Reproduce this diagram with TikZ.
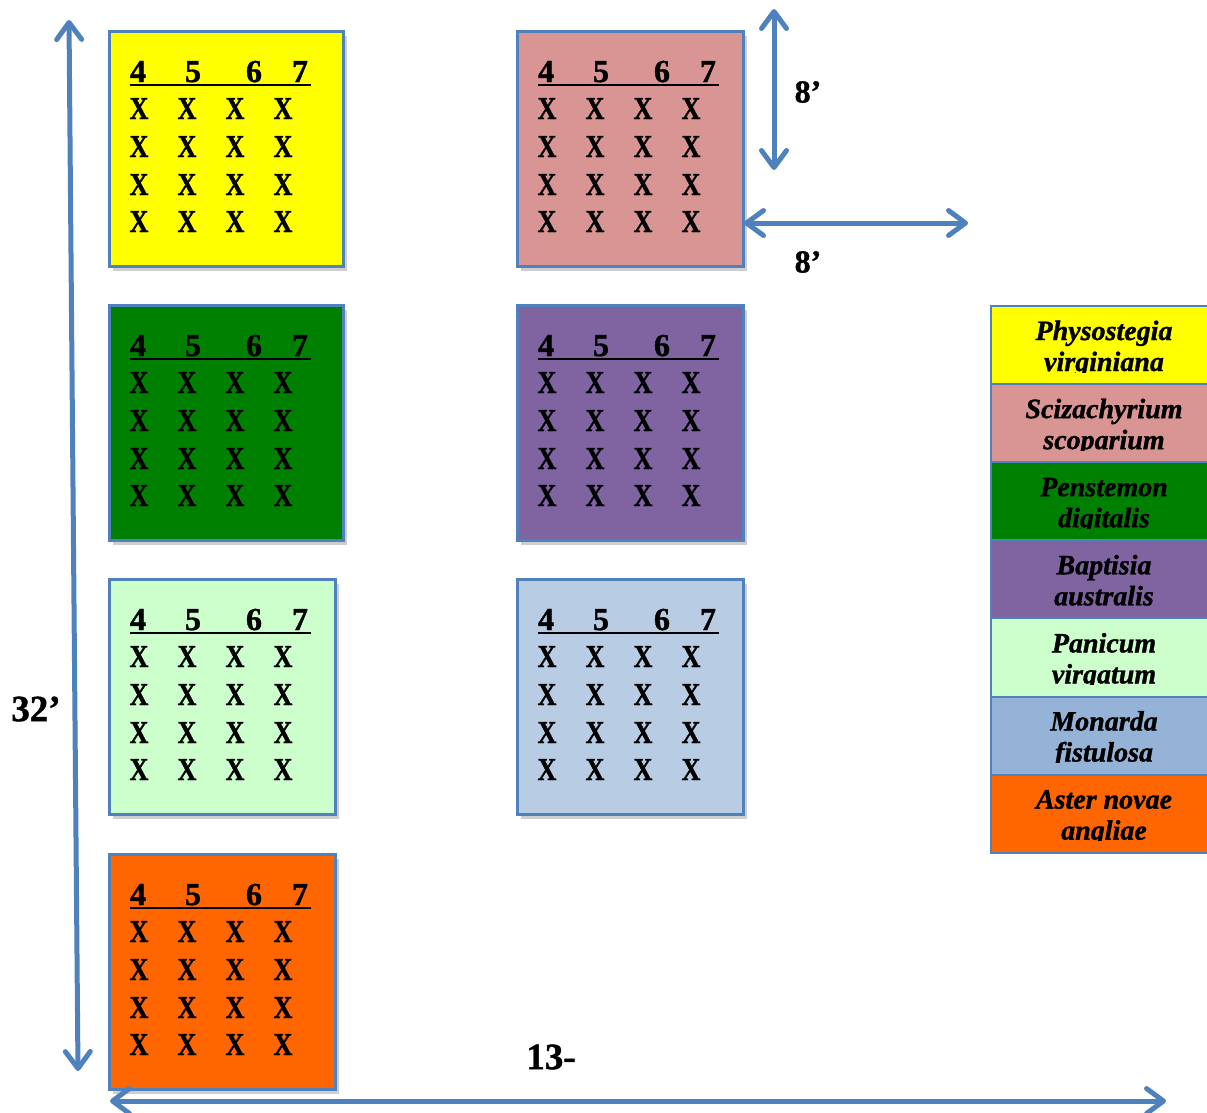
\documentclass[tikz,border=0pt]{standalone}
\usepackage{fontspec}
\setmainfont{Liberation Serif}[BoldFeatures={FakeBold=1.2},BoldItalicFeatures={FakeBold=1.2}]
\usetikzlibrary{arrows.meta,shadows}
\definecolor{edge}{RGB}{79,129,189}
\definecolor{cYellow}{RGB}{255,255,0}
\definecolor{cPink}{RGB}{217,149,148}
\definecolor{cGreen}{RGB}{0,128,0}
\definecolor{cPurple}{RGB}{128,100,162}
\definecolor{cMint}{RGB}{204,255,204}
\definecolor{cSky}{RGB}{184,204,228}
\definecolor{cSkyDark}{RGB}{149,179,215}
\definecolor{cOrange}{RGB}{255,102,0}
\begin{document}
\begin{tikzpicture}[x=1pt,y=-1pt,
  plot/.style={draw=edge, line width=3pt, anchor=north west, inner sep=0pt,
    minimum height=235pt,
    drop shadow={shadow xshift=3pt,shadow yshift=-4pt,opacity=0.35,fill=black!55}},
  digit/.style={anchor=base, inner sep=0pt, font=\bfseries\fontsize{32}{32}\selectfont},
  cross/.style={anchor=base, inner sep=0pt, font=\bfseries\fontsize{32}{32}\selectfont},
  legcell/.style={draw=edge, line width=2pt, anchor=north west, inner sep=0pt,
    minimum width=240pt, minimum height=78.1pt},
  legtext/.style={anchor=base, inner sep=0pt, font=\bfseries\itshape\fontsize{28}{28}\selectfont},
  barb/.tip={Straight Barb[length=17pt,width=25pt,line cap=round,line join=round]},
  dim/.style={draw=edge, line width=5pt, line cap=round, barb-barb},
  dimlabel/.style={inner sep=0pt, font=\bfseries\fontsize{32}{32}\selectfont},
  biglabel/.style={inner sep=0pt, font=\bfseries\fontsize{37}{37}\selectfont}]
\useasboundingbox (0,0) rectangle (1207,1112);

% planting plots with their 4x4 grids
\foreach \name/\bx/\by/\bw/\col in {
    yel/108/30/234/cYellow, pink/516/30/226/cPink,
    grn/108/304/234/cGreen, pur/516/304/226/cPurple,
    mint/108/578/226/cMint, sky/516/578/226/cSky,
    org/108/853/226/cOrange} {
  \node[plot, fill=\col, minimum width=\bw pt] (\name) at (\bx,\by) {};
  \foreach \d/\dx in {4/30,5/85,6/146,7/192}
    \node[digit] (\name-d\d) at ({\bx+\dx},{\by+52}) {\d};
  \draw[line width=2.5pt] ({\bx+22},{\by+55}) -- ({\bx+203},{\by+55});
  \foreach \c [count=\ci] in {31,79,127,175}
    \foreach \r [count=\ri] in {89,127,165,202}
      \node[cross] (\name-x\ri\ci) at ({\bx+\c},{\by+\r}) {\scalebox{0.82}[1]{X}};
}

% species legend
\foreach \i/\col/\la/\lb in {
    0/cYellow/Physostegia/virginiana,
    1/cPink/Scizachyrium/scoparium,
    2/cGreen/Penstemon/digitalis,
    3/cPurple/Baptisia/australis,
    4/cMint/Panicum/virgatum,
    5/cSkyDark/Monarda/fistulosa,
    6/cOrange/Aster novae/angliae} {
  \pgfmathsetmacro\ty{305+78.1*\i}
  \node[legcell, fill=\col] (leg\i) at (990,\ty) {};
  \begin{scope}
    \clip (990,\ty) rectangle (1210,{\ty+67});
    \node[legtext] (leg\i-a) at (1104,{\ty+35}) {\la};
    \node[legtext] (leg\i-b) at (1104,{\ty+66}) {\lb};
  \end{scope}
}

% dimension arrows
\coordinate (lefttop) at (69,20);
\coordinate (leftbot) at (78,1071);
\coordinate (basel) at (110,1101);
\coordinate (baser) at (1166,1101);
\coordinate (vtop) at (774,9);
\coordinate (vbot) at (774,170);
\coordinate (hleft) at (744,223);
\coordinate (hright) at (968,223);
\draw[dim] (lefttop) -- (leftbot);
\draw[dim] (basel) -- (baser);
\draw[dim] (vtop) -- (vbot);
\draw[dim] (hleft) -- (hright);

\node[dimlabel] (len8a) at (808,92) {8’};
\node[dimlabel] (len8b) at (808,262) {8’};
\node[biglabel] (len32) at (36,709) {32’};
\node[biglabel] (len13) at (551,1057) {13-};
\end{tikzpicture}
\end{document}
